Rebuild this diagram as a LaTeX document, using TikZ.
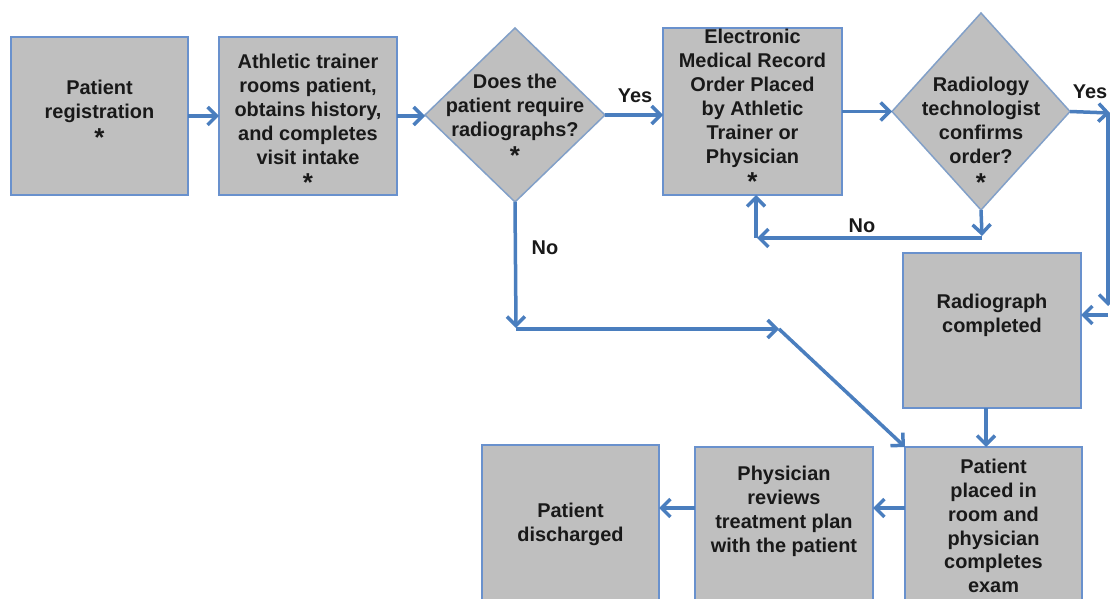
\documentclass[tikz,border=0pt]{standalone}
\usepackage{fontspec}
\usepackage{graphicx}
\setmainfont{Liberation Sans}
\usetikzlibrary{shapes.geometric,arrows.meta}
\definecolor{arrblue}{RGB}{74,126,190}
\definecolor{boxline}{RGB}{105,145,205}
\definecolor{dialine}{RGB}{130,160,200}
\definecolor{boxgray}{RGB}{191,191,191}
\newcommand\astk{\raisebox{-4bp}{\scalebox{1.3}{*}}}
\tikzset{
  box/.style={draw=boxline, line width=1.5bp, fill=boxgray, inner sep=0pt, outer sep=0pt},
  dia/.style={diamond, draw=dialine, line width=1.5bp, fill=boxgray, inner sep=0pt, outer sep=0pt},
  txt/.style={font=\bfseries\fontsize{20}{24}\selectfont, align=center, text=black!90, inner sep=0pt},
  arr/.style={draw=arrblue, line width=3.5bp, -{Straight Barb[length=9bp,width=18bp]}},
  lbl/.style={font=\bfseries\fontsize{20}{24}\selectfont, text=black!90, inner sep=0pt}
}
\begin{document}
\begin{tikzpicture}[x=1bp,y=-1bp]
\useasboundingbox (0,0) rectangle (1110,599);
% boxes
\node[box, minimum width=177bp, minimum height=158bp] (reg) at (99.5,116) {};
\node[box, minimum width=178bp, minimum height=158bp] (at) at (308,116) {};
\node[dia, minimum width=180bp, minimum height=174bp] (d1) at (515,115) {};
\node[box, minimum width=179bp, minimum height=167bp] (emr) at (752.5,111.5) {};
\node[dia, minimum width=178bp, minimum height=197bp] (d2) at (981,111.5) {};
\node[box, minimum width=178bp, minimum height=155bp] (rad) at (992,330.5) {};
\node[box, minimum width=177bp, minimum height=158bp] (ppr) at (993.5,526) {};
\node[box, minimum width=178bp, minimum height=158bp] (phys) at (784,526) {};
\node[box, minimum width=177bp, minimum height=160bp] (disch) at (570.5,525) {};
% texts
\node[txt] (regT) at (99.5,113) {Patient\\registration\\\astk};
\node[txt] (atT) at (308,123) {Athletic trainer\\rooms patient,\\obtains history,\\and completes\\visit intake\\\astk};
\node[txt] (d1T) at (515,119) {Does the\\patient require\\radiographs?\\\astk};
\node[txt] (emrT) at (752.5,110) {Electronic\\Medical Record\\Order Placed\\by Athletic\\Trainer or\\Physician\\\astk};
\node[txt] (d2T) at (981,134) {Radiology\\technologist\\confirms\\order?\\\astk};
\node[txt] (radT) at (992,315) {Radiograph\\completed};
\node[txt] (pprT) at (993.5,526) {Patient\\placed in\\room and\\physician\\completes\\exam};
\node[txt] (physT) at (784,511) {Physician\\reviews\\treatment plan\\with the patient};
\node[txt] (dischT) at (570.5,524) {Patient\\discharged};
% labels
\node[lbl] (yes1) at (635,96) {Yes};
\node[lbl] (no1) at (545,248) {No};
\node[lbl] (no2) at (862,226) {No};
\node[lbl] (yes2) at (1090,92) {Yes};
% coordinates
\coordinate (d2out) at (1110,113);
\coordinate (rtop) at (1108,113);
\coordinate (rbot) at (1108,306);
\coordinate (rturn) at (1108,315);
\coordinate (nodown) at (982,236);
\coordinate (noleft) at (757,238);
\coordinate (noup) at (756,238);
\coordinate (d1down) at (516,328);
\coordinate (d1turn) at (516,329);
\coordinate (d1right) at (779,329);
\coordinate (radout) at (986,408);
\coordinate (pprin) at (986,447);
% connectors
\draw[arr] (reg.east |- 0,116) -- (at.west |- 0,116);
\draw[arr] (at.east |- 0,116) -- (d1.west |- 0,116);
\draw[arr] (d1.east) -- (d1.east -| emr.west);
\draw[arr] (emr.east |- d2.west) -- (d2.west);
\draw[arr] (d2.east) -- (d2out);
\draw[arr] (rtop) -- (rbot);
\draw[arr] (rturn) -- (rturn -| rad.east);
\draw[arr] (d2.south) -- (nodown);
\draw[arr] (nodown |- noleft) -- (noleft);
\draw[arr] (noup) -- (noup |- emr.south);
\draw[arr] (d1.south) -- (d1down);
\draw[arr] (d1turn) -- (d1right);
\draw[arr] (d1right) -- (ppr.north west);
\draw[arr] (radout) -- (pprin);
\draw[arr] (ppr.west |- 0,508) -- (phys.east |- 0,508);
\draw[arr] (phys.west |- 0,508) -- (disch.east |- 0,508);
\end{tikzpicture}
\end{document}
